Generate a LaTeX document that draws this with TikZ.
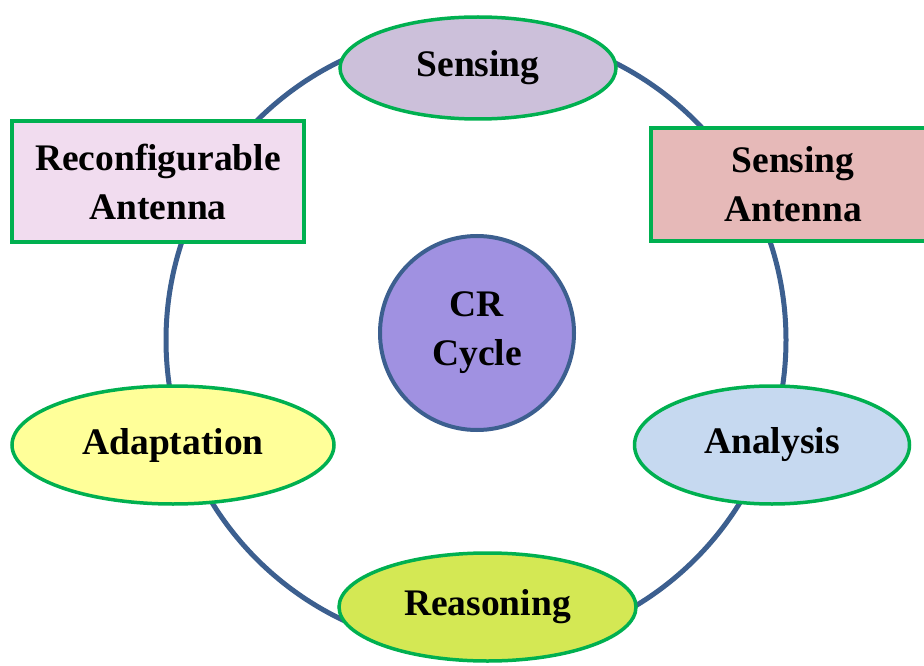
\documentclass[tikz,border=0pt]{standalone}
\usepackage{fontspec}
\setmainfont{Liberation Serif}
\usetikzlibrary{shapes.geometric}
\definecolor{ringblue}{RGB}{60,95,143}
\definecolor{edgegreen}{RGB}{0,176,80}
\definecolor{senscol}{RGB}{204,192,218}
\definecolor{reconfcol}{RGB}{241,220,239}
\definecolor{santcol}{RGB}{230,185,184}
\definecolor{crcol}{RGB}{160,145,225}
\definecolor{adaptcol}{RGB}{255,255,153}
\definecolor{analcol}{RGB}{198,217,240}
\definecolor{reascol}{RGB}{212,232,84}
\tikzset{
  lbl/.style={font=\fontsize{37.5}{49}\selectfont\bfseries, align=center, text=black},
  ellnode/.style={lbl, ellipse, draw=edgegreen, line width=3.5pt, inner sep=0pt},
  boxnode/.style={lbl, rectangle, draw=edgegreen, line width=3.5pt, inner sep=0pt},
}
\begin{document}
\begin{tikzpicture}[x=1pt,y=-1pt]
\useasboundingbox (0,0) rectangle (924,666);
\draw[ringblue, line width=5pt] (476,340) circle[radius=310];
\node[ellnode, fill=senscol, minimum width=276, minimum height=102] (sensing) at (478,68) {Sensing};
\node[boxnode, fill=reconfcol, minimum width=292, minimum height=121] (reconf) at (158,181.5) {Reconfigurable\\Antenna};
\node[boxnode, fill=santcol, minimum width=284, minimum height=113] (sant) at (793,184.5) {Sensing\\Antenna};
\node[lbl, circle, draw=ringblue, fill=crcol, line width=4pt, minimum size=194, inner sep=0pt] (cr) at (477,333) {CR\\Cycle};
\node[ellnode, fill=adaptcol, minimum width=322, minimum height=118] (adapt) at (173,445) {Adaptation};
\node[ellnode, fill=analcol, minimum width=275, minimum height=118] (anal) at (772,445) {Analysis};
\node[ellnode, fill=reascol, minimum width=297, minimum height=108] (reas) at (487.5,607) {Reasoning};
\end{tikzpicture}
\end{document}
